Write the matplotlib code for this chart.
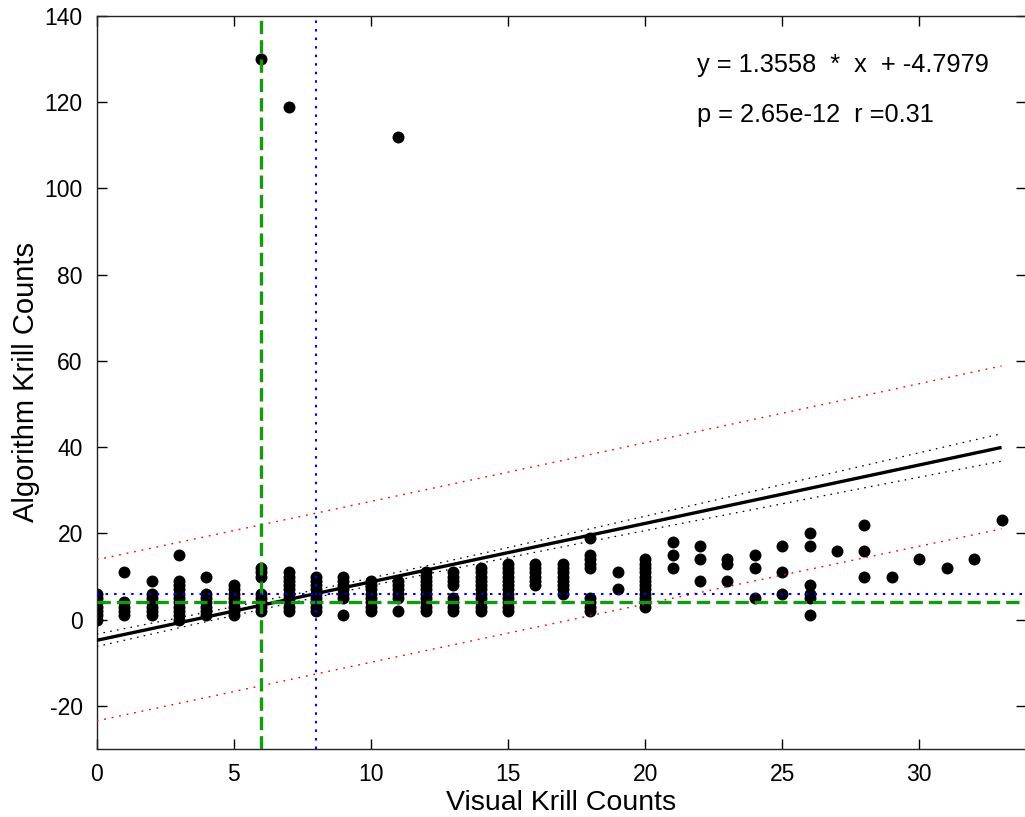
import numpy as np
import matplotlib
matplotlib.use("Agg")
import matplotlib.pyplot as plt

plt.rcParams['font.family'] = ['Liberation Sans', 'DejaVu Sans']
plt.rcParams['axes.unicode_minus'] = False

# ---- data ----
visual_counts = (
    [0]*7 + [1]*5 + [2]*7 + [3]*11 + [4]*7 + [5]*8 + [6]*9 + [7]*11 + [8]*9 +
    [9]*7 + [10]*8 + [11]*7 + [12]*10 + [13]*8 + [14]*11 + [15]*12 + [16]*6 +
    [17]*8 + [18]*9 + [19]*2 + [20]*12 + [21]*3 + [22]*3 + [23]*3 + [24]*3 +
    [25]*3 + [26]*6 + [27]*1 + [28]*3 + [29]*1 + [30]*1 + [31]*1 + [32]*1 + [33]*1
)
algorithm_counts = (
    [0, 1, 2, 3, 4, 5, 6] +                      # 0
    [1, 2, 3, 4, 11] +                           # 1
    [1, 2, 3, 4, 5, 6, 9] +                      # 2
    [0, 1, 2, 3, 4, 5, 6, 7, 8, 9, 15] +         # 3
    [1, 2, 3, 4, 5, 6, 10] +                     # 4
    [1, 2, 3, 4, 5, 6, 7, 8] +                   # 5
    [2, 3, 4, 5, 6, 10, 11, 12, 130] +           # 6
    [2, 3, 4, 5, 6, 7, 8, 9, 10, 11, 119] +      # 7
    [2, 3, 4, 5, 6, 7, 8, 9, 10] +               # 8
    [1, 5, 6, 7, 8, 9, 10] +                     # 9
    [2, 3, 4, 5, 6, 7, 8, 9] +                   # 10
    [2, 5, 6, 7, 8, 9, 112] +                    # 11
    [2, 3, 4, 5, 6, 7, 8, 9, 10, 11] +           # 12
    [2, 3, 4, 5, 8, 9, 10, 11] +                 # 13
    [2, 3, 4, 5, 6, 7, 8, 9, 10, 11, 12] +       # 14
    [2, 3, 4, 5, 6, 7, 8, 9, 10, 11, 12, 13] +   # 15
    [8, 9, 10, 11, 12, 13] +                     # 16
    [6, 7, 8, 9, 10, 11, 12, 13] +               # 17
    [2, 3, 4, 5, 12, 13, 14, 15, 19] +           # 18
    [7, 11] +                                    # 19
    [3, 4, 5, 6, 7, 8, 9, 10, 11, 12, 13, 14] +  # 20
    [12, 15, 18] +                               # 21
    [9, 14, 17] +                                # 22
    [9, 13, 14] +                                # 23
    [5, 12, 15] +                                # 24
    [6, 11, 17] +                                # 25
    [1, 5, 6, 8, 17, 20] +                       # 26
    [16] +                                       # 27
    [10, 16, 22] +                               # 28
    [10] +                                       # 29
    [14] +                                       # 30
    [12] +                                       # 31
    [14] +                                       # 32
    [23]                                         # 33
)

slope = 1.3558
intercept = -4.7979
fit_x_range = [0, 33]
conf_center_x = 9.0
conf_half_at_center = 0.88
conf_half_growth = 0.128
pred_half = 18.65

median_visual = 6
mean_visual = 8
median_algorithm = 4
mean_algorithm = 6

eq_text = "y = 1.3558  *  x  + -4.7979"
stat_text = "p = 2.65e-12  r =0.31"

x_ticks = [0, 5, 10, 15, 20, 25, 30]
y_ticks = [-20, 0, 20, 40, 60, 80, 100, 120, 140]

# ---- figure ----
W, H = 1025, 817
fig = plt.figure(figsize=(W/100, H/100), dpi=100)
left_px, right_px, top_px, bot_px = 96.7, 1025.5, 16.0, 749.0
ax = fig.add_axes([left_px/W, 1 - bot_px/H, (right_px-left_px)/W, (bot_px-top_px)/H])

ax.plot(visual_counts, algorithm_counts, 'o', color='black', markersize=8.6,
        markeredgewidth=0, zorder=2)

xf = np.linspace(fit_x_range[0], fit_x_range[1], 200)
yf = slope*xf + intercept
conf = np.sqrt(conf_half_at_center**2 + (conf_half_growth*(xf-conf_center_x))**2)
pred = np.sqrt(pred_half**2 + conf**2 - conf_half_at_center**2)

ax.plot(xf, yf + pred, color='red', lw=1.0, dashes=(1.3, 4.2), zorder=3)
ax.plot(xf, yf - pred, color='red', lw=1.0, dashes=(1.3, 4.2), zorder=3)
ax.plot(xf, yf + conf, color='black', lw=0.9, dashes=(1.3, 4.2), zorder=3)
ax.plot(xf, yf - conf, color='black', lw=0.9, dashes=(1.3, 4.2), zorder=3)
ax.plot(xf, yf, color='black', lw=2.4, solid_capstyle='butt', zorder=4)

green = '#139a13'
ax.axvline(median_visual, color=green, lw=2.4, dashes=(4.0, 1.8), zorder=5)
ax.axhline(median_algorithm, color=green, lw=2.4, dashes=(4.0, 1.8), zorder=5)
ax.axvline(mean_visual, color='#0000ff', lw=1.5, dashes=(1.2, 2.9), zorder=5)
ax.axhline(mean_algorithm, color='#0000ff', lw=1.5, dashes=(1.2, 2.9), zorder=5)

ax.text(21.9, 128.6, eq_text, fontsize=18.3, ha='left', va='center')
ax.text(21.9, 117.0, stat_text, fontsize=18.3, ha='left', va='center')

ax.set_xlim(0, (right_px - left_px) / 27.42)
ax.set_ylim(-30, 140)
ax.set_xticks(x_ticks)
ax.set_yticks(y_ticks)
ax.tick_params(direction='in', length=7, width=1, top=True, right=True,
               labelsize=16.5, pad=10)
for s in ax.spines.values():
    s.set_linewidth(1.0)
    s.set_color('#222222')
ax.spines['right'].set_visible(False)

ax.set_xlabel("Visual Krill Counts", fontsize=20.5, labelpad=3)
ax.set_ylabel("Algorithm Krill Counts", fontsize=21, labelpad=3)

fig.savefig("out.png", dpi=100)
